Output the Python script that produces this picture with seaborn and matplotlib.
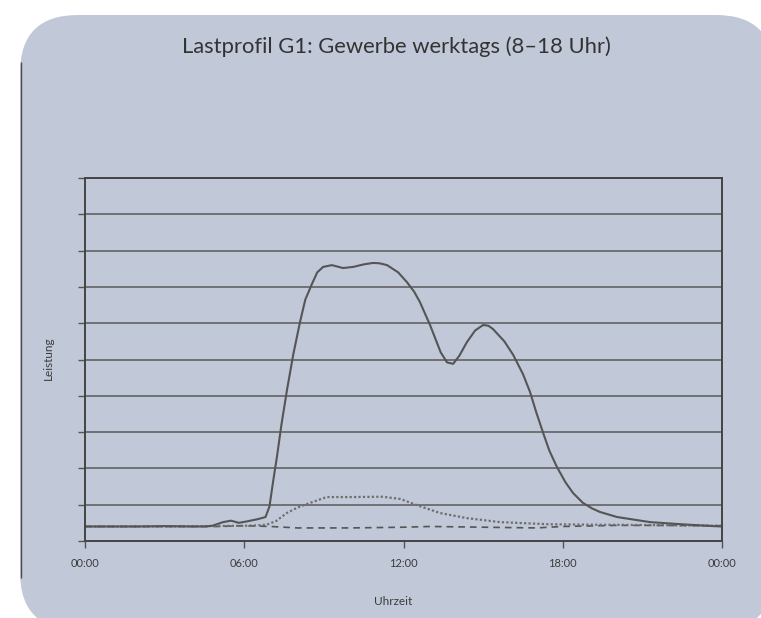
import numpy as np
import pandas as pd
import matplotlib
matplotlib.use("Agg")
import matplotlib.pyplot as plt
from matplotlib.patches import FancyBboxPatch
import seaborn as sns

# Lastgang (Stunde, Leistung in Gitterteilen)
main_hours = [0, 1, 2, 3, 4, 4.5, 4.8, 5.2, 5.5, 5.8, 6.1, 6.5, 6.8, 6.95, 7.1, 7.23,
              7.4, 7.61, 7.85, 8.1, 8.3, 8.55, 8.75, 8.97, 9.3, 9.72, 10.1, 10.5,
              10.85, 11.1, 11.38, 11.8, 12.13, 12.4, 12.62, 13.0, 13.4, 13.64, 13.87,
              14.1, 14.39, 14.7, 15.0, 15.2, 15.37, 15.8, 16.13, 16.5, 16.77, 17.0,
              17.26, 17.5, 17.78, 18.1, 18.39, 18.76, 19.1, 19.4, 20.05, 21.29, 22.5,
              23.66, 24]
main_values = [0.40, 0.40, 0.40, 0.41, 0.40, 0.40, 0.42, 0.52, 0.56, 0.50, 0.54, 0.60,
               0.66, 0.95, 1.70, 2.31, 3.20, 4.16, 5.15, 6.03, 6.65, 7.08, 7.40, 7.55,
               7.60, 7.52, 7.55, 7.62, 7.66, 7.65, 7.60, 7.40, 7.13, 6.87, 6.58, 5.95,
               5.20, 4.92, 4.88, 5.10, 5.48, 5.80, 5.95, 5.93, 5.84, 5.50, 5.13, 4.60,
               4.10, 3.55, 2.98, 2.48, 2.04, 1.62, 1.32, 1.05, 0.90, 0.80, 0.66, 0.52,
               0.46, 0.41, 0.40]

dotted_hours = [0, 3, 6.0, 6.5, 6.85, 7.2, 7.6, 8.0, 8.48, 9.1, 10.0, 11.2, 11.87, 12.5,
                13.38, 14.39, 15.64, 17.5, 19.0, 21.0, 24]
dotted_values = [0.40, 0.40, 0.42, 0.43, 0.45, 0.55, 0.77, 0.92, 1.05, 1.21, 1.21, 1.22,
                 1.16, 0.99, 0.77, 0.63, 0.52, 0.46, 0.45, 0.44, 0.42]

dashed_hours = [0, 3, 5, 6, 7, 8, 10, 12, 13, 15, 17, 18, 20, 22, 24]
dashed_values = [0.40, 0.40, 0.40, 0.42, 0.40, 0.36, 0.36, 0.38, 0.40, 0.38, 0.36,
                 0.40, 0.43, 0.43, 0.42]

tick_hours = [0, 6, 12, 18, 24]
tick_labels = ["00:00", "06:00", "12:00", "18:00", "00:00"]

sns.set_theme(style="ticks")
plt.rcParams["font.family"] = ["Lato", "DejaVu Sans"]

BG = "#c1c8d8"
INK = "#3c3c3c"

fig = plt.figure(figsize=(7.61, 6.18), dpi=100)
fig.patch.set_facecolor("white")

# rounded panel behind everything
bg = fig.add_axes([0, 0, 1, 1], zorder=-1)
bg.set_xlim(0, 761)
bg.set_ylim(618, 0)
bg.axis("off")
bg.add_patch(FancyBboxPatch((20, 15), 754, 615,
                            boxstyle="round,pad=0,rounding_size=58",
                            facecolor=BG, edgecolor="none"))
bg.plot([21, 21], [62, 578], color="#4a4a4a", lw=1.0, solid_capstyle="butt")

ax = fig.add_axes([85 / 761, 77 / 618, 637 / 761, 363 / 618])
ax.set_facecolor(BG)

sns.lineplot(x=dashed_hours, y=dashed_values, ax=ax, color="#555555", lw=1.2,
             linestyle=(0, (4, 3)))
sns.lineplot(x=dotted_hours, y=dotted_values, ax=ax, color="#6e6e6e", lw=1.6,
             linestyle=(0, (1, 1)))
sns.lineplot(x=main_hours, y=main_values, ax=ax, color="#555555", lw=1.5)

ax.set_xlim(0, 24)
ax.set_ylim(0, 10)
ax.set_xticks(tick_hours)
ax.set_xticklabels(tick_labels)
ax.set_yticks(range(0, 11))
ax.set_yticklabels([])
ax.yaxis.grid(True, color="#5a5a5a", lw=1.1)
ax.xaxis.grid(False)
ax.tick_params(axis="both", length=5, width=1.0, color="#555555",
               labelsize=8, labelcolor=INK, pad=7)
for s in ax.spines.values():
    s.set_visible(True)
    s.set_color("#444444")
    s.set_linewidth(1.4)
ax.set_xlabel("")
ax.set_ylabel("")

fig.text(0.521, 0.925, "Lastprofil G1: Gewerbe werktags (8–18 Uhr)", ha="center",
         va="center", fontsize=15.8, color="#333333")
fig.text(0.063, 0.421, "Leistung", rotation=90, ha="center", va="center",
         fontsize=8.5, color=INK)
fig.text(0.516, 0.027, "Uhrzeit", ha="center", va="center", fontsize=8.5, color=INK)

fig.savefig("out.png", dpi=100, facecolor="white")
